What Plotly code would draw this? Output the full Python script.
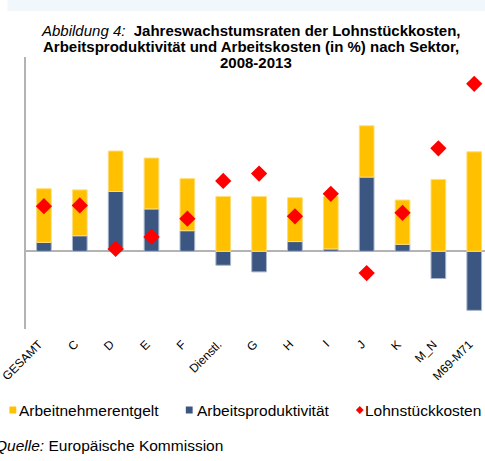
import plotly.graph_objects as go

# Sector codes and annual growth rates 2008-2013 (in %)
sectors = ["GESAMT", "C", "D", "E", "F", "Dienstl.", "G", "H", "I", "J", "K", "M_N", "M69-M71"]
arbeitsproduktivitaet = [0.23, 0.40, 1.54, 1.09, 0.53, -0.36, -0.53, 0.25, 0.06, 1.91, 0.18, -0.70, -1.52]
arbeitnehmerentgelt = [1.38, 1.18, 1.04, 1.31, 1.34, 1.41, 1.41, 1.13, 1.35, 1.32, 1.14, 1.85, 2.56]
lohnstueckkosten = [1.16, 1.18, 0.06, 0.37, 0.84, 1.81, 2.00, 0.90, 1.48, -0.56, 0.99, 2.65, 4.31]

ORANGE = "#FFC000"
BLUE = "#3B5681"
RED = "#FF0000"
GREY = "#B3B3B3"
FONT = "Liberation Sans, Arial, sans-serif"

fig = go.Figure()
fig.add_trace(go.Bar(
    x=sectors, y=arbeitsproduktivitaet, name="Arbeitsproduktivität",
    marker=dict(color=BLUE, line=dict(color="#A9B6CC", width=1)),
    width=0.41, showlegend=False,
))
fig.add_trace(go.Bar(
    x=sectors, y=arbeitnehmerentgelt, name="Arbeitnehmerentgelt",
    marker=dict(color=ORANGE, line=dict(color="#FFDD7A", width=1)),
    width=0.41, showlegend=False,
))
fig.add_trace(go.Scatter(
    x=sectors, y=lohnstueckkosten, name="Lohnstückkosten", mode="markers",
    marker=dict(symbol="diamond", size=12.5, color=RED, line=dict(width=0)),
    showlegend=False,
))

# plot area: left 14px, top 57px, bottom 329px in a 485x461 page
L, T, B, W = 14, 57, 329, 471
H = B - T


def px(x):
    return (x - L) / W


def py(y):
    return (B - y) / H


title_lines = [
    ("<i>Abbildung 4:</i>\u00a0\u00a0<b>Jahreswachstumsraten der Lohnstückkosten,</b>", 244.5, 31),
    ("<b>Arbeitsproduktivität und Arbeitskosten (in %) nach Sektor,</b>", 245, 46.5),
    ("<b>2008-2013</b>", 250, 62),
]
annotations = [
    dict(text=t, x=px(cx), y=py(cy), xanchor="center", yanchor="middle",
         font=dict(family=FONT, size=15, color="#000000"))
    for t, cx, cy in title_lines
]

# legend entries and source line
bottom_texts = [
    ("Arbeitnehmerentgelt", 5, 410),
    ("Arbeitsproduktivität", 187, 410),
    ("Lohnstückkosten", 360, 410),
    ("<i>Quelle:</i> Europäische Kommission", -20, 445),
]
annotations += [
    dict(text=t, x=px(x0), y=py(cy), xanchor="left", yanchor="middle",
         font=dict(family=FONT, size=15.5, color="#000000"))
    for t, x0, cy in bottom_texts
]
for a in annotations:
    a.update(xref="paper", yref="paper", showarrow=False)

shapes = [
    # light strip along the top edge
    dict(type="rect", xref="paper", yref="paper", x0=px(-5), x1=px(490),
         y0=py(11), y1=py(-2), fillcolor="#F2F7FC", line=dict(width=0), layer="below"),
    # legend symbols
    dict(type="rect", xref="paper", yref="paper", x0=px(-3), x1=px(4),
         y0=py(413.5), y1=py(406.5), fillcolor=ORANGE, line=dict(width=0)),
    dict(type="rect", xref="paper", yref="paper", x0=px(178), x1=px(185),
         y0=py(413.5), y1=py(406.5), fillcolor=BLUE, line=dict(width=0)),
    dict(type="path", xref="paper", yref="paper",
         path=f"M {px(356.5)} {py(406)} L {px(360.5)} {py(410)} L {px(356.5)} {py(414)} "
              f"L {px(352.5)} {py(410)} Z",
         fillcolor=RED, line=dict(width=0)),
]

fig.update_layout(
    width=485, height=461,
    margin=dict(l=L, r=0, t=T, b=461 - B, pad=0),
    barmode="relative",
    plot_bgcolor="white", paper_bgcolor="white",
    font=dict(family=FONT, size=12, color="#000000"),
    annotations=annotations,
    shapes=shapes,
    xaxis=dict(
        range=[-0.5, 12.3], showgrid=False, showline=False, ticks="",
        tickangle=-45, tickfont=dict(family=FONT, size=12, color="#000000"),
        ticklabelshift=-5, ticklabelstandoff=5,
        fixedrange=True,
    ),
    yaxis=dict(
        range=[-2, 5], showgrid=False, showticklabels=False, ticks="",
        showline=True, linecolor=GREY, linewidth=2,
        zeroline=True, zerolinecolor=GREY, zerolinewidth=2,
        fixedrange=True,
    ),
)

fig.write_html("out.html")
